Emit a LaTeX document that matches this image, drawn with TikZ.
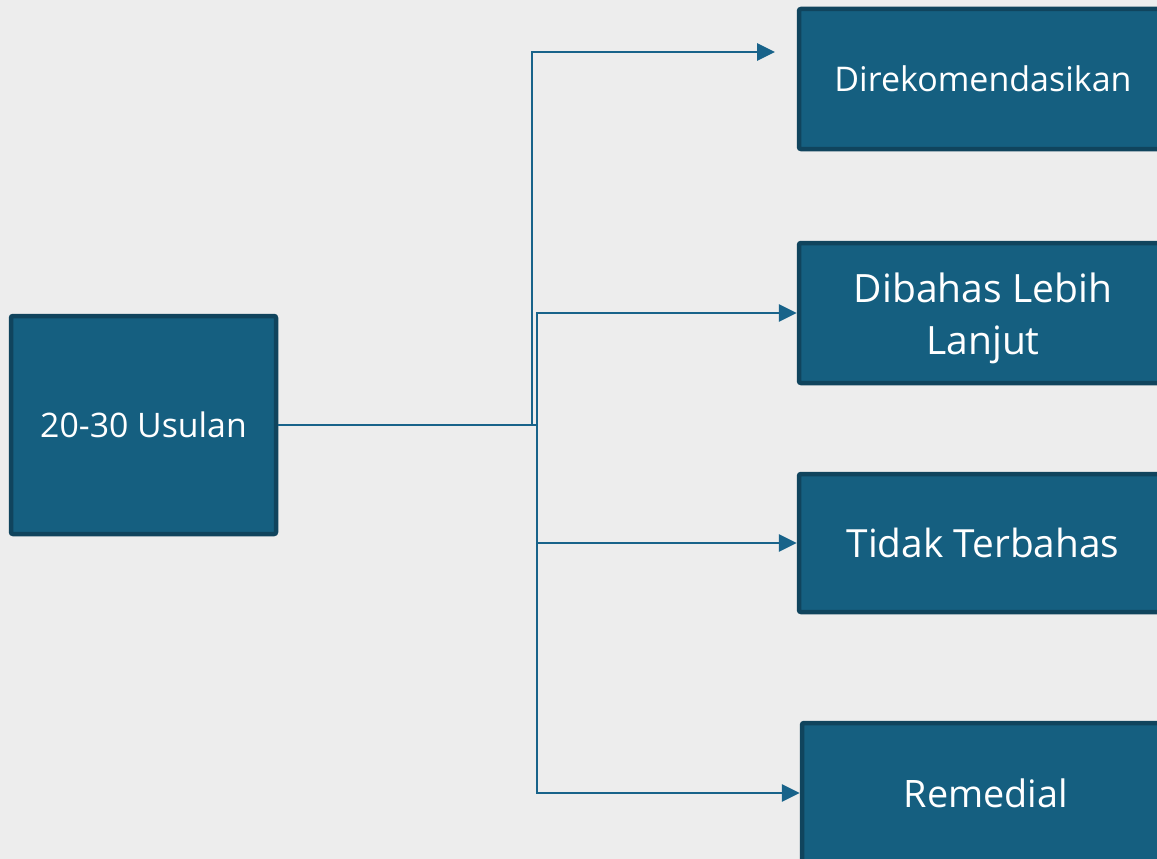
\documentclass[tikz,border=0pt]{standalone}
\usepackage{fontspec}
\setmainfont{Open Sans}
\usetikzlibrary{arrows.meta}
\definecolor{bg}{HTML}{EDEDED}
\definecolor{boxfill}{HTML}{155F80}
\definecolor{boxline}{HTML}{10445D}
\definecolor{conncol}{HTML}{18638A}
\tikzset{
  box/.style={rectangle, fill=boxfill, draw=boxline, line width=4.5pt, rounded corners=2pt,
    text=white, align=center, inner sep=0pt},
  conn/.style={draw=conncol, line width=2.8pt},
  arr/.style={conn, -{Triangle[length=18pt,width=17pt]}}
}
\begin{document}
\begin{tikzpicture}[x=1pt,y=-1pt]
\useasboundingbox (0,0) rectangle (1157,859);
\clip (0,0) rectangle (1157,859);
\fill[bg] (0,0) rectangle (1157,859);
\node[box, minimum width=265pt, minimum height=218pt, font=\fontsize{33.8}{40}\selectfont] (L) at (143.5,425) {20-30 Usulan};
\node[box, minimum width=368pt, minimum height=140pt, font=\fontsize{34}{40}\selectfont] (B1) at (983,79) {Direkomendasikan};
\node[box, minimum width=368pt, minimum height=140pt, font=\fontsize{39}{52}\selectfont] (B2) at (983,313) {\rule{0pt}{40pt}Dibahas Lebih\\Lanjut};
\node[box, minimum width=368pt, minimum height=138pt, font=\fontsize{38.8}{46}\selectfont] (B3) at (983,543) {Tidak Terbahas};
\node[box, minimum width=368pt, minimum height=140pt, font=\fontsize{37.8}{46}\selectfont] (B4) at (986,793) {Remedial};
\coordinate (ja) at (532,425);
\coordinate (jb) at (537,425);
\coordinate (t1) at (775,52);
\draw[conn] (L.east) -- (jb);
\draw[arr] (ja) |- (t1);
\draw[arr] (jb) |- (B2.west);
\draw[arr] (jb) |- (B3.west);
\draw[arr] (jb) |- (B4.west);
\end{tikzpicture}
\end{document}
